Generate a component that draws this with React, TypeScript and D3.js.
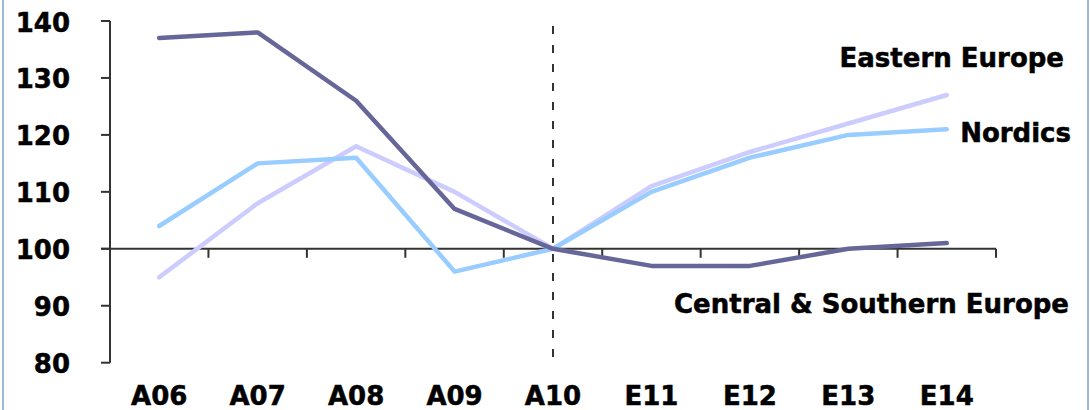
import React from "react";
import * as d3 from "d3";

const categories = ["A06", "A07", "A08", "A09", "A10", "E11", "E12", "E13", "E14"];
const centralSouthern = [137, 138, 126, 107, 100, 97, 97, 100, 101];
const nordics = [104, 115, 116, 96, 100, 110, 116, 120, 121];
const easternEurope = [95, 108, 118, 110, 100, 111, 117, 122, 127];
const yTicks = [80, 90, 100, 110, 120, 130, 140];

const W = 1090;
const H = 410;
const FONT = "'DejaVu Sans', Verdana, sans-serif";

const textStyle = {
  fontSize: 26,
  fontWeight: "bold" as const,
  fill: "#000",
  stroke: "#000",
  strokeWidth: 0.5,
};

export default function App() {
  const x = d3.scaleBand<string>().domain(categories).range([110, 996]);
  const y = d3.scaleLinear().domain([80, 140]).range([362.7, 21]);
  const cx = (c: string) => (x(c) ?? 0) + x.bandwidth() / 2;

  const line = d3
    .line<number>()
    .x((_, i) => cx(categories[i]))
    .y((v) => y(v));

  const series = [
    { values: easternEurope, color: "#CCCCFF" },
    { values: nordics, color: "#99CCFF" },
    { values: centralSouthern, color: "#666699" },
  ];

  const boundaries = categories.slice(1).map((c) => x(c) ?? 0).concat([x.range()[1]]);
  const divider = cx("A10");
  const axisColor = "#333";

  return (
    <svg
      width={W}
      height={H}
      style={{ position: "fixed", left: 0, top: 0, background: "#fff" }}
      fontFamily={FONT}
    >
      <rect x={0} y={0} width={W} height={H} fill="#fff" />
      <line x1={3} x2={3} y1={0} y2={H} stroke="#9db8d9" strokeWidth={2} />
      <line x1={1088} x2={1088} y1={0} y2={H} stroke="#9db8d9" strokeWidth={2} />

      {/* y axis */}
      <line x1={110} x2={110} y1={y(140)} y2={y(80)} stroke={axisColor} strokeWidth={2} />
      {yTicks.map((t) => (
        <g key={t}>
          <line x1={101} x2={110} y1={y(t)} y2={y(t)} stroke={axisColor} strokeWidth={2} />
          <text x={70} y={y(t) + 10.5} textAnchor="end" {...textStyle}>
            {t}
          </text>
        </g>
      ))}

      {/* x axis at 100 */}
      <line x1={101} x2={x.range()[1]} y1={y(100)} y2={y(100)} stroke={axisColor} strokeWidth={2} />
      {boundaries.map((b, i) => (
        <line key={i} x1={b} x2={b} y1={y(100)} y2={y(100) + 9} stroke={axisColor} strokeWidth={2} />
      ))}
      {categories.map((c) => (
        <text key={c} x={cx(c)} y={405} textAnchor="middle" {...textStyle}>
          {c}
        </text>
      ))}

      {/* divider */}
      <line
        x1={divider}
        x2={divider}
        y1={26}
        y2={y(80)}
        stroke="#333"
        strokeWidth={2}
        strokeDasharray="8,11"
      />

      {series.map((s, i) => (
        <path
          key={i}
          d={line(s.values) ?? ""}
          fill="none"
          stroke={s.color}
          strokeWidth={4.5}
          strokeLinejoin="round"
          strokeLinecap="round"
        />
      ))}

      <text x={1064} y={67} textAnchor="end" {...textStyle}>
        Eastern Europe
      </text>
      <text x={1071} y={142} textAnchor="end" {...textStyle}>
        Nordics
      </text>
      <text x={1069} y={313} textAnchor="end" {...textStyle}>
        Central &amp; Southern Europe
      </text>
    </svg>
  );
}
